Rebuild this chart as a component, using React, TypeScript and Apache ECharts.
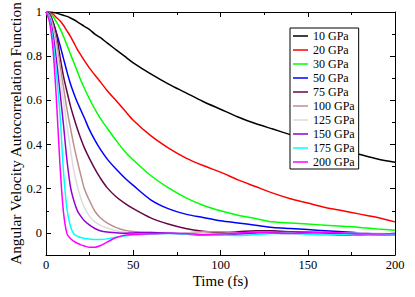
import React, { useEffect, useRef } from "react";
import * as echarts from "echarts";

const times = [0, 2, 4, 6, 8, 10, 12, 14, 16, 18, 20, 22, 25, 28, 31, 35, 40, 45, 50, 60, 70, 80, 90, 100, 110, 120, 130, 140, 150, 160, 170, 180, 190, 200];

const gpa10 = [1, 1, 0.998, 0.995, 0.99, 0.985, 0.98, 0.973, 0.965, 0.955, 0.945, 0.935, 0.92, 0.9, 0.885, 0.86, 0.83, 0.8, 0.77, 0.72, 0.675, 0.635, 0.595, 0.56, 0.525, 0.495, 0.47, 0.445, 0.42, 0.395, 0.375, 0.355, 0.335, 0.32];
const gpa20 = [1, 0.997, 0.99, 0.975, 0.96, 0.94, 0.915, 0.89, 0.86, 0.83, 0.805, 0.78, 0.745, 0.715, 0.685, 0.645, 0.6, 0.555, 0.51, 0.44, 0.385, 0.34, 0.305, 0.275, 0.24, 0.21, 0.18, 0.155, 0.135, 0.115, 0.1, 0.085, 0.07, 0.05];
const gpa30 = [1, 0.995, 0.98, 0.955, 0.925, 0.89, 0.85, 0.81, 0.77, 0.73, 0.69, 0.655, 0.605, 0.56, 0.52, 0.475, 0.42, 0.37, 0.33, 0.26, 0.205, 0.16, 0.125, 0.1, 0.08, 0.065, 0.05, 0.045, 0.04, 0.035, 0.03, 0.025, 0.018, 0.012];
const gpa50 = [1, 0.99, 0.955, 0.905, 0.85, 0.79, 0.73, 0.675, 0.63, 0.59, 0.555, 0.52, 0.465, 0.42, 0.38, 0.335, 0.29, 0.25, 0.215, 0.15, 0.11, 0.085, 0.07, 0.055, 0.045, 0.035, 0.025, 0.02, 0.015, 0.01, 0.005, 0.0, -0.005, -0.003];
const gpa75 = [1, 0.99, 0.955, 0.9, 0.8, 0.71, 0.64, 0.575, 0.52, 0.47, 0.425, 0.385, 0.335, 0.29, 0.25, 0.205, 0.165, 0.135, 0.11, 0.068, 0.04, 0.02, 0.008, 0.002, 0.005, 0.01, 0.01, 0.005, 0.0, -0.005, -0.01, -0.01, -0.005, -0.005];
const gpa100 = [1, 0.985, 0.94, 0.86, 0.76, 0.66, 0.56, 0.475, 0.395, 0.325, 0.26, 0.2, 0.145, 0.098, 0.07, 0.045, 0.025, 0.012, 0.006, 0.002, 0.0, 0.0, 0.005, 0.005, 0.0, -0.005, 0.0, 0.005, 0.005, 0.0, -0.005, -0.01, -0.01, -0.01];
const gpa125 = [1, 0.98, 0.92, 0.83, 0.72, 0.6, 0.485, 0.38, 0.28, 0.21, 0.155, 0.115, 0.075, 0.05, 0.035, 0.022, 0.01, 0.004, 0.0, 0.0, 0.002, 0.0, -0.003, -0.005, -0.002, 0.0, 0.002, 0.0, -0.003, -0.005, -0.003, 0.0, -0.002, -0.005];
const gpa150 = [1, 0.975, 0.9, 0.78, 0.64, 0.49, 0.33, 0.21, 0.145, 0.1, 0.075, 0.055, 0.035, 0.02, 0.01, 0.004, 0.001, -0.002, 0.0, 0.002, 0.0, -0.005, -0.01, -0.01, -0.005, 0.0, 0.003, 0.005, 0.003, 0.0, -0.003, -0.005, -0.008, -0.01];
const gpa175 = [1, 0.97, 0.87, 0.72, 0.54, 0.28, 0.11, 0.03, -0.005, -0.015, -0.021, -0.025, -0.028, -0.03, -0.03, -0.027, -0.02, -0.014, -0.01, -0.005, -0.003, -0.005, -0.008, -0.01, -0.012, -0.008, -0.003, -0.003, -0.006, -0.01, -0.008, -0.006, -0.008, -0.01];
const gpa200 = [1, 0.955, 0.83, 0.6, 0.31, 0.095, -0.003, -0.025, -0.038, -0.047, -0.054, -0.059, -0.065, -0.065, -0.058, -0.042, -0.022, -0.011, -0.006, -0.004, -0.002, -0.003, -0.008, -0.005, 0.0, 0.003, 0.0, -0.003, 0.0, 0.003, 0.0, -0.005, -0.005, -0.003];

const seriesNames = ["10 GPa", "20 GPa", "30 GPa", "50 GPa", "75 GPa", "100 GPa", "125 GPa", "150 GPa", "175 GPa", "200 GPa"];
const seriesValues = [gpa10, gpa20, gpa30, gpa50, gpa75, gpa100, gpa125, gpa150, gpa175, gpa200];
const seriesColors = ["#000000", "#ff0000", "#00ff00", "#0000ff", "#670748", "#bc8f8f", "#dcdcdc", "#9400d3", "#00ffff", "#ff00ff"];

const yMajor = [0, 0.2, 0.4, 0.6, 0.8, 1];
const yMinor = [-0.1, 0.1, 0.3, 0.5, 0.7, 0.9];
const xTitle = "Time (fs)";
const yTitle = "Angular Velocity Autocorrelation Function";

export default function App() {
  const ref = useRef<HTMLDivElement>(null);
  useEffect(() => {
    const chart = echarts.init(ref.current!, null, { renderer: "svg" });
    const font = "'Liberation Serif', 'Times New Roman', serif";
    const lineStyle = { color: "#000", width: 1 };

    const yAxisBase = (position: string, major: boolean, showLine: boolean, showLabel: boolean, withName: boolean) => ({
      type: "value",
      min: -0.1,
      max: 1,
      position,
      name: withName ? yTitle : "",
      nameLocation: "middle",
      nameGap: 23,
      nameMoveOverlap: false,
      nameTextStyle: { fontFamily: font, fontSize: 15.3, color: "#000" },
      axisLine: { show: showLine, onZero: false, lineStyle },
      axisTick: { show: true, inside: true, length: major ? 5 : 3, customValues: major ? yMajor : yMinor, lineStyle },
      axisLabel: { show: showLabel, customValues: yMajor, margin: 4, fontFamily: font, fontSize: 12.5, color: "#000" },
      splitLine: { show: false },
    });

    const xAxisBase = (position: string, showLabel: boolean, withName: boolean) => ({
      type: "value",
      min: 0,
      max: 200,
      interval: 50,
      position,
      name: withName ? xTitle : "",
      nameLocation: "middle",
      nameGap: 18,
      nameMoveOverlap: false,
      nameTextStyle: { fontFamily: font, fontSize: 15, color: "#000" },
      axisLine: { show: true, onZero: false, lineStyle },
      axisTick: { show: true, inside: true, length: 5, lineStyle },
      minorTick: { show: true, splitNumber: 2, length: 3, lineStyle },
      axisLabel: { show: showLabel, margin: 3, fontFamily: font, fontSize: 12.5, color: "#000" },
      splitLine: { show: false },
      minorSplitLine: { show: false },
    });

    chart.setOption({
      animation: false,
      backgroundColor: "#fff",
      grid: { left: 46, right: 20, top: 12, bottom: 42, containLabel: false, outerBoundsMode: "none" },
      xAxis: [xAxisBase("bottom", true, true), xAxisBase("top", false, false)],
      yAxis: [
        yAxisBase("left", true, true, true, true),
        yAxisBase("left", false, false, false, false),
        yAxisBase("right", true, true, false, false),
        yAxisBase("right", false, false, false, false),
      ],
      legend: {
        orient: "vertical",
        left: 290,
        top: 28,
        padding: [2, 4, 1, 3],
        itemGap: 2,
        itemWidth: 15,
        itemHeight: 1.5,
        icon: "rect",
        borderColor: "#000",
        borderWidth: 1,
        backgroundColor: "#fff",
        textStyle: { fontFamily: font, fontSize: 12, color: "#000", lineHeight: 10 },
        data: seriesNames,
      },
      series: seriesNames.map((name, k) => ({
        name,
        type: "line",
        xAxisIndex: 0,
        yAxisIndex: 0,
        symbol: "none",
        showSymbol: false,
        smooth: 0.3,
        color: seriesColors[k],
        lineStyle: { color: seriesColors[k], width: 1.5 },
        data: times.map((t, i) => [t, seriesValues[k][i]]),
      })),
    });
    return () => chart.dispose();
  }, []);
  return <div ref={ref} style={{ position: "fixed", left: 0, top: 0, width: 415, height: 297 }} />;
}
